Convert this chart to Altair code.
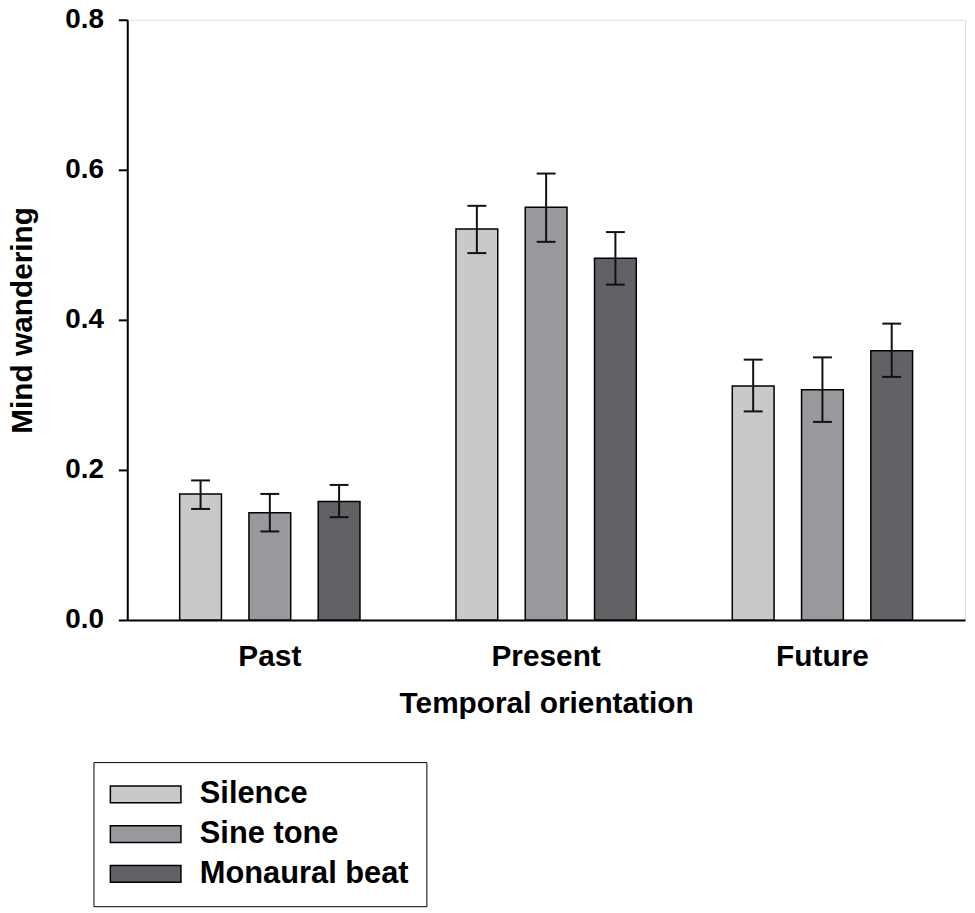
import altair as alt
import pandas as pd

orientation = ["Past", "Present", "Future"]
condition = ["Silence", "Sine tone", "Monaural beat"]
colors = ["#c8c9cb", "#98999c", "#616265"]

mean_past = [0.168, 0.143, 0.158]
mean_present = [0.521, 0.550, 0.482]
mean_future = [0.312, 0.307, 0.359]

lo_past = [0.148, 0.118, 0.137]
lo_present = [0.489, 0.504, 0.447]
lo_future = [0.278, 0.264, 0.324]

hi_past = [0.186, 0.168, 0.180]
hi_present = [0.552, 0.595, 0.517]
hi_future = [0.347, 0.350, 0.395]

rows = []
for o, m, l, h in zip(orientation,
                      [mean_past, mean_present, mean_future],
                      [lo_past, lo_present, lo_future],
                      [hi_past, hi_present, hi_future]):
    for c, mv, lv, hv in zip(condition, m, l, h):
        rows.append({"orient": o, "cond": c, "mean": mv, "lo": lv, "hi": hv})
df = pd.DataFrame(rows)

FONT = "Liberation Sans"

x = alt.X("orient:N", sort=orientation,
          scale=alt.Scale(paddingInner=0, paddingOuter=0.016),
          axis=alt.Axis(title="Temporal orientation", labelAngle=0, ticks=False, tickSize=0,
                        labelFontSize=30, labelFontWeight="bold", labelColor="black",
                        labelPadding=22, titleFontSize=30, titleFontWeight="bold",
                        titleColor="black", titlePadding=17, domainColor="black",
                        domainWidth=2, labelFont=FONT, titleFont=FONT))
xo = alt.XOffset("cond:N", sort=condition,
                 scale=alt.Scale(paddingInner=0.397, paddingOuter=0.693))
yscale = alt.Scale(domain=[0, 0.8], nice=False)

bars = alt.Chart(df).mark_bar(stroke="black", strokeWidth=1.5).encode(
    x=x,
    xOffset=xo,
    y=alt.Y("mean:Q", scale=yscale,
            axis=alt.Axis(title="Mind wandering", values=[0, 0.2, 0.4, 0.6, 0.8],
                          format=".1f", grid=False, tickSize=9, tickWidth=2,
                          tickColor="black", domainColor="black", domainWidth=2,
                          labelFontSize=28, labelFontWeight="bold", labelColor="black",
                          labelPadding=15, titleFontSize=30, titleFontWeight="bold",
                          titleColor="black", titlePadding=27, labelFont=FONT,
                          titleFont=FONT)),
    color=alt.Color("cond:N", sort=condition,
                    scale=alt.Scale(domain=condition, range=colors),
                    legend=alt.Legend(title=None, orient="none", legendX=-34, legendY=747,
                                      padding=17, strokeColor="black",
                                      symbolType="M-2.536,-0.607H2.536V0.607H-2.536Z",
                                      symbolSize=784, symbolStrokeColor="black",
                                      symbolStrokeWidth=1.5, symbolOpacity=1,
                                      symbolOffset=20, labelOffset=39, labelLimit=400,
                                      labelFontSize=31, labelFontWeight="bold",
                                      labelColor="black", labelFont=FONT,
                                      rowPadding=8)),
)

rules = alt.Chart(df).mark_rule(color="#111111", strokeWidth=2).encode(
    x=x, xOffset=xo, y=alt.Y("lo:Q", scale=yscale), y2="hi:Q")

caps_hi = alt.Chart(df).mark_tick(color="#111111", thickness=2, size=19, opacity=1).encode(
    x=x, xOffset=xo, y=alt.Y("hi:Q", scale=yscale))
caps_lo = alt.Chart(df).mark_tick(color="#111111", thickness=2, size=19, opacity=1).encode(
    x=x, xOffset=xo, y=alt.Y("lo:Q", scale=yscale))

chart = alt.layer(bars, rules, caps_hi, caps_lo).properties(
    width=843, height=604,
    autosize=alt.AutoSizeParams(type="none"),
    padding={"left": 120, "top": 9, "right": 2, "bottom": 288},
).configure_view(stroke="black", strokeWidth=2).configure_legend(
    strokeWidth=2
).configure(background="white")

chart.save("out.html", embed_options={"renderer": "svg", "actions": False})
